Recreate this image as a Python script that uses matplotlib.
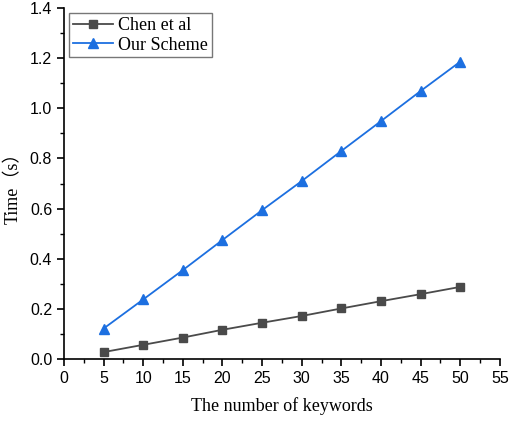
import matplotlib.pyplot as plt
from matplotlib.ticker import MultipleLocator

# number of keywords vs. running time
keywords = [5, 10, 15, 20, 25, 30, 35, 40, 45, 50]
chen_time = [0.028, 0.057, 0.086, 0.117, 0.145, 0.172, 0.202, 0.231, 0.259, 0.288]
our_time = [0.122, 0.238, 0.355, 0.475, 0.594, 0.710, 0.830, 0.949, 1.069, 1.186]

serif = ['Liberation Serif', 'Noto Sans CJK SC']

fig = plt.figure(figsize=(5.09, 4.22), dpi=100)
ax = fig.add_axes([0.1257, 0.149, 0.8563, 0.832])

ax.plot(keywords, chen_time, color='#4a4a4a', marker='s', markersize=6,
        linewidth=1.3, label='Chen et al')
ax.plot(keywords, our_time, color='#1c6fe0', marker='^', markersize=7,
        linewidth=1.3, label='Our Scheme')

ax.set_xlim(0, 55)
ax.set_ylim(0, 1.4)
ax.xaxis.set_major_locator(MultipleLocator(5))
ax.xaxis.set_minor_locator(MultipleLocator(2.5))
ax.yaxis.set_major_locator(MultipleLocator(0.2))
ax.yaxis.set_minor_locator(MultipleLocator(0.1))
ax.yaxis.set_major_formatter(lambda v, p: f'{v:.1f}')

for s in ['top', 'right']:
    ax.spines[s].set_visible(False)
for s in ['left', 'bottom']:
    ax.spines[s].set_linewidth(1.2)

ax.tick_params(which='major', direction='out', length=5, width=1.2,
               labelsize=11.5, colors='black')
ax.tick_params(which='minor', direction='out', length=3, width=1.0)
for lab in ax.get_xticklabels() + ax.get_yticklabels():
    lab.set_family('Liberation Sans')

ax.set_xlabel('The number of keywords', family=serif, fontsize=13, labelpad=8)
ax.set_ylabel('Time（s）', family=serif, fontsize=13, labelpad=6)

leg = ax.legend(loc='upper left', bbox_to_anchor=(0.0, 1.0),
                prop={'family': serif, 'size': 13}, frameon=True,
                fancybox=False, edgecolor='#555555', handlelength=2.2,
                handletextpad=0.3, borderpad=0.2, labelspacing=0.15,
                borderaxespad=0.3)
leg.get_frame().set_linewidth(1.0)

fig.savefig('out.png', dpi=100)
